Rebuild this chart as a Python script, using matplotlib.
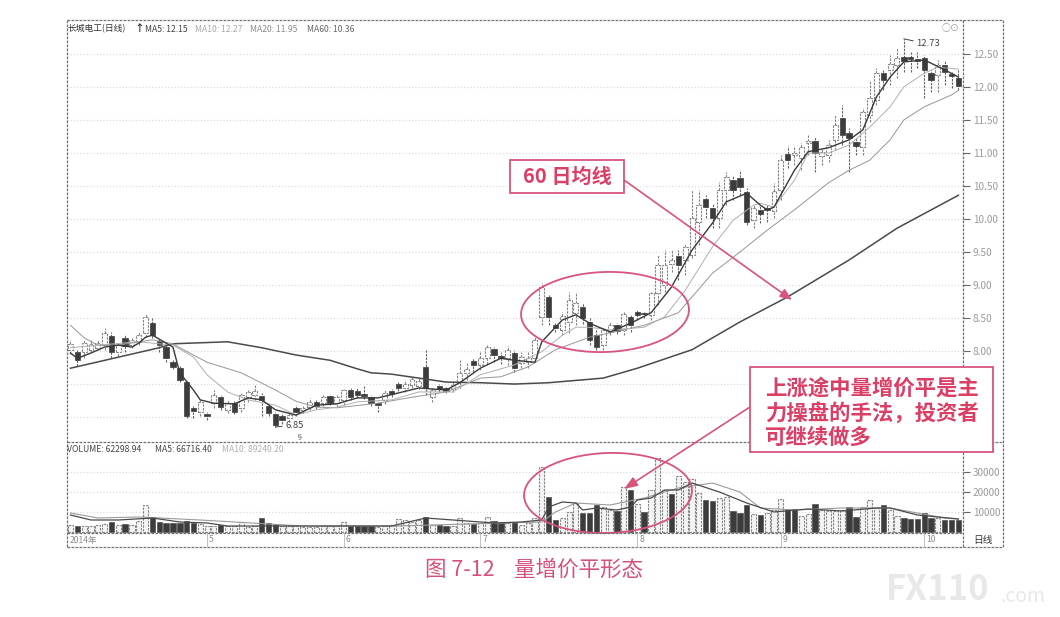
import matplotlib
matplotlib.use("Agg")
import matplotlib.pyplot as plt
from matplotlib.patches import Ellipse, Rectangle

plt.rcParams['font.family'] = ['Noto Sans CJK SC', 'DejaVu Sans']
plt.rcParams['axes.unicode_minus'] = False

# ---------- daily prices ----------
opens = [8.02,7.99,7.99,8.02,8.05,8.09,8.23,7.99,8.20,8.09,8.14,8.27,8.42,8.15,8.06,7.83,7.74,7.53,7.14,7.08,
         7.05,7.21,7.30,7.11,7.21,7.14,7.30,7.33,7.32,7.17,7.05,7.02,6.99,7.14,7.11,7.15,7.23,7.21,7.32,7.21,
         7.26,7.41,7.39,7.35,7.30,7.21,7.26,7.39,7.50,7.44,7.49,7.47,7.76,7.30,7.47,7.44,7.43,7.53,7.67,7.85,
         7.79,7.89,8.03,7.92,7.89,7.97,7.82,7.83,7.89,8.52,8.82,8.39,8.32,8.44,8.58,8.67,8.44,8.24,8.09,8.29,
         8.39,8.32,8.52,8.59,8.58,8.55,8.88,9.00,9.32,9.44,9.38,9.45,9.95,10.30,10.17,10.02,10.44,10.59,10.62,10.41,
         9.98,10.14,10.17,10.12,10.44,10.99,10.97,10.92,11.15,11.18,10.95,10.97,11.20,11.53,11.30,11.17,11.09,11.58,11.80,12.21,
         12.26,12.33,12.45,12.45,12.42,12.44,12.21,12.18,12.33,12.20,12.14]
highs = [8.17,8.02,8.17,8.17,8.17,8.35,8.29,8.14,8.24,8.20,8.29,8.56,8.50,8.20,8.09,7.86,7.77,7.55,7.17,7.26,
         7.08,7.41,7.33,7.26,7.24,7.36,7.41,7.49,7.36,7.20,7.08,7.06,7.08,7.18,7.17,7.29,7.26,7.33,7.35,7.33,
         7.43,7.44,7.44,7.47,7.33,7.24,7.41,7.43,7.53,7.56,7.62,7.59,8.02,7.44,7.50,7.47,7.53,7.86,7.83,7.89,
         7.99,8.09,8.06,7.99,8.08,8.02,7.99,7.99,8.24,9.03,8.85,8.42,8.59,8.89,8.89,8.73,8.50,8.32,8.35,8.44,
         8.42,8.59,8.55,8.62,8.61,8.89,9.45,9.53,9.53,9.53,9.62,10.44,10.44,10.36,10.23,10.56,10.71,10.67,10.74,10.47,
         10.21,10.21,10.21,10.55,10.97,11.11,11.11,11.15,11.27,11.24,11.08,11.20,11.58,11.73,11.38,11.23,11.68,12.11,12.29,12.26,
         12.48,12.59,12.73,12.53,12.53,12.48,12.26,12.41,12.41,12.23,12.26]
lows = [7.96,7.77,7.89,7.99,8.02,8.02,7.89,7.92,7.99,8.05,8.09,8.21,8.20,7.99,7.83,7.73,7.53,6.99,6.99,7.02,
        6.95,7.14,7.11,7.06,7.05,7.08,7.23,7.26,7.02,7.02,6.85,6.89,6.93,7.02,7.06,7.11,7.12,7.17,7.18,7.15,
        7.18,7.26,7.29,7.27,7.17,7.08,7.20,7.30,7.39,7.38,7.44,7.43,7.33,7.23,7.38,7.36,7.38,7.44,7.56,7.68,
        7.71,7.80,7.83,7.80,7.79,7.68,7.74,7.74,7.83,8.39,8.39,8.29,8.24,8.27,8.39,8.41,8.09,8.02,8.02,8.24,
        8.26,8.24,8.29,8.47,8.50,8.47,8.70,8.89,9.20,9.08,9.15,9.41,9.61,10.02,9.86,9.86,10.21,10.29,10.36,9.91,
        9.86,9.94,9.95,10.02,10.29,10.77,10.82,10.74,10.97,10.71,10.82,10.86,11.05,11.12,10.71,10.97,10.97,11.47,11.73,11.95,
        12.03,12.14,12.23,12.23,12.29,11.83,11.92,11.92,12.03,11.98,11.95]
closes = [8.11,7.86,8.12,8.11,8.12,8.27,7.99,8.09,8.08,8.17,8.24,8.52,8.24,8.09,7.89,7.76,7.56,7.02,7.09,7.23,
          7.02,7.33,7.15,7.21,7.08,7.33,7.38,7.39,7.26,7.06,6.88,6.95,7.03,7.08,7.14,7.23,7.17,7.30,7.21,7.30,
          7.41,7.30,7.33,7.32,7.21,7.18,7.36,7.35,7.44,7.50,7.58,7.55,7.44,7.41,7.43,7.39,7.49,7.67,7.73,7.79,
          7.89,8.06,7.94,7.89,8.02,7.74,7.91,7.89,8.17,8.97,8.52,8.35,8.53,8.77,8.73,8.50,8.17,8.06,8.32,8.39,
          8.30,8.56,8.39,8.55,8.56,8.88,9.30,9.30,9.38,9.30,9.58,10.02,10.21,10.18,10.02,10.44,10.64,10.44,10.49,9.95,
          10.17,10.08,10.14,10.42,10.89,10.89,11.00,11.09,11.18,11.00,11.02,11.12,11.42,11.27,11.23,11.11,11.62,11.83,12.21,12.11,
          12.35,12.44,12.39,12.42,12.39,12.26,12.11,12.33,12.23,12.17,12.02]

# ---------- moving averages: day index / value ----------
ma5_days = [0,1,3,5,7,9,10,11,12,14,15,16,18,19,21,24,26,28,30,33,34,36,39,42,45,51,55,57,60,63,65,68,69,72,74,76,79,82,85,88,91,94,96,99,101,102,103,106,108,111,114,116,118,120,122,125,128,130]
ma5 = [7.97,7.89,7.97,8.06,8.09,8.06,8.12,8.21,8.24,8.12,8.06,7.67,7.41,7.26,7.21,7.20,7.29,7.26,7.11,7.03,7.08,7.18,7.20,7.29,7.29,7.44,7.41,7.52,7.74,7.89,7.86,7.83,8.14,8.47,8.55,8.42,8.29,8.42,8.58,8.97,9.53,9.94,10.26,10.39,10.21,10.14,10.18,10.74,11.02,11.08,11.20,11.35,11.85,12.15,12.38,12.41,12.26,12.15]
ma10_days = [0,4,10,15,18,20,23,26,30,33,36,39,42,47,51,56,60,65,69,72,74,76,79,84,87,90,94,97,100,101,103,106,108,111,114,117,120,122,125,127,130]
ma10 = [8.05,8.09,8.14,8.09,7.91,7.64,7.38,7.26,7.18,7.03,7.11,7.15,7.23,7.26,7.38,7.38,7.64,7.79,7.99,8.24,8.36,8.36,8.32,8.36,8.52,8.92,9.58,9.98,10.21,10.24,10.18,10.59,11.00,11.00,11.12,11.39,11.70,12.00,12.21,12.30,12.27]
ma20_days = [0,2,4,7,12,15,16,20,25,30,33,36,39,45,50,55,60,63,67,71,76,84,89,94,98,102,106,111,114,117,120,122,125,129,130]
ma20 = [8.39,8.20,8.09,8.09,8.17,8.11,8.05,7.83,7.67,7.41,7.24,7.15,7.14,7.21,7.30,7.38,7.59,7.61,7.76,8.02,8.21,8.39,8.58,9.18,9.50,9.83,10.14,10.55,10.74,10.89,11.20,11.50,11.70,11.88,11.95]
ma60_days = [0,13,15,23,28,33,38,42,44,47,51,55,60,65,70,78,83,91,98,105,114,121,130]
ma60 = [7.74,8.05,8.11,8.14,8.05,7.94,7.86,7.73,7.67,7.65,7.59,7.53,7.52,7.50,7.52,7.59,7.74,8.02,8.44,8.82,9.38,9.86,10.36]

# ---------- volume ----------
volume = [3500,3000,3000,3000,3500,4000,5000,3500,4000,3500,5500,13500,7500,5000,4500,4500,4500,5500,4500,4000,
          3000,3000,3500,3000,3000,5000,2500,3000,7000,4500,4000,3000,3000,3000,2500,2500,2500,3000,3000,3000,
          5000,3000,3000,3000,3000,2500,3000,3500,6500,6000,5000,6000,7500,3500,3500,3000,3000,7000,4500,4000,
          4500,7500,5500,4500,4500,5000,3500,4500,7000,32500,17500,6000,7000,10000,14500,9500,9500,13500,12500,11000,
          10500,22500,21000,14000,10000,21000,37000,21000,19000,28000,25000,26500,19500,16000,15500,17000,17500,10500,9500,13500,
          9000,8500,9500,11000,16500,11500,11500,8000,9000,14000,11000,10500,10500,11000,12500,7500,12500,16000,12000,13500,
          11000,8000,7000,6500,6500,9500,7000,7000,6000,6000,6000]
volume_down_days = [1,6,8,12,13,14,15,16,17,18,22,28,29,30,41,42,43,44,52,54,55,59,62,63,65,70,71,75,76,77,80,82,84,88,
                    93,94,97,98,99,101,105,106,109,114,115,119,122,123,124,125,126,128,129,130]
vma5_days = [0,3,7,12,16,20,23,37,47,52,62,66,69,70,72,74,75,77,80,82,83,85,87,89,91,95,99,103,108,113,118,120,124,130]
vma5 = [8500,6000,6000,7000,5000,4500,3000,3000,3000,7000,4500,5000,6000,12500,15000,14500,11000,12000,11000,12500,16000,17000,21000,21000,24500,20000,14500,10000,11500,10500,12000,12000,8500,6500]
vma10_days = [0,4,10,19,34,48,63,69,71,74,79,84,89,94,98,101,106,113,120,128,130]
vma10 = [9500,7000,7500,6000,3000,3000,4500,5000,10000,14500,13500,17000,22000,24500,20000,12000,11000,12000,12000,7000,6500]

# ---------- axis labels ----------
price_ticks = [7.0,7.5,8.0,8.5,9.0,9.5,10.0,10.5,11.0,11.5,12.0,12.5]
volume_ticks = [10000,20000,30000]
month_days = [20,40,60,83,104,125]
month_labels = ['5','6','7','8','9','10']
title_text = '长城电工(日线)'
ma_labels = ['MA5: 12.15','MA10: 12.27','MA20: 11.95','MA60: 10.36']
vol_labels = ['VOLUME: 62298.94','MA5: 66716.40','MA10: 89240.20']
callout_a = '60 日均线'
callout_b = ['上涨途中量增价平是主','力操盘的手法，投资者','可继续做多']
caption_no = '图 7-12'
caption_name = '量增价平形态'

W, H = 1060, 617
PINK = '#d8547c'
RED = '#dc3f66'
DARK = '#3c3c3c'
EDGE = '#858585'
GRID = '#dcdcdc'
DASH = (0, (2.2, 1))

fig = plt.figure(figsize=(W/100, H/100), dpi=100, facecolor='white')


def rect(l, t, r, b):
    return [l/W, 1-b/H, (r-l)/W, (b-t)/H]


ax = fig.add_axes(rect(67, 20, 963, 442))
axv = fig.add_axes(rect(67, 442, 963, 533))
for a in (ax, axv):
    a.set_xlim(-0.51, 130.67)
    for s in a.spines.values():
        s.set_visible(False)
    a.set_xticks([])
    a.set_facecolor('white')
ax.set_ylim(6.622, 13.015)
axv.set_ylim(-500, 45000)
for a, ticks in ((ax, price_ticks), (axv, volume_ticks)):
    a.set_yticks(ticks)
    a.yaxis.tick_right()
    a.tick_params(axis='y', length=5, width=0.8, color='#666666', pad=2, labelsize=7.2,
                  labelcolor='#9a9a9a')
    a.grid(axis='y', color=GRID, lw=0.9, ls=(0, (1, 1.6)))
    a.set_axisbelow(True)
ax.set_yticklabels(['%.2f' % t for t in price_ticks])

days = list(range(len(opens)))
for i in days:
    up = closes[i] >= opens[i]
    top, bot = max(opens[i], closes[i]), min(opens[i], closes[i])
    if up:
        ax.vlines(i, lows[i], bot, color=EDGE, lw=0.8, ls=DASH, zorder=2)
        ax.vlines(i, top, highs[i], color=EDGE, lw=0.8, ls=DASH, zorder=2)
        ax.bar(i, top-bot, 0.72, bot, facecolor='white', edgecolor=EDGE, lw=0.8, ls=DASH, zorder=3)
    else:
        ax.vlines(i, lows[i], highs[i], color='#666666', lw=0.8, ls=DASH, zorder=2)
        ax.bar(i, top-bot, 0.8, bot, facecolor=DARK, edgecolor=DARK, lw=0.5, zorder=3)

ax.plot(ma60_days, ma60, color='#4a4a4a', lw=1.1, zorder=4)
ax.plot(ma20_days, ma20, color='#969696', lw=0.7, zorder=4)
ax.plot(ma10_days, ma10, color='#b0b0b0', lw=0.7, zorder=4)
ax.plot(ma5_days, ma5, color='#3a3a3a', lw=1.0, zorder=5)

for i, v in enumerate(volume):
    if i in volume_down_days:
        axv.bar(i, v, 0.8, facecolor=DARK, edgecolor=DARK, lw=0.4, zorder=3)
    else:
        axv.bar(i, v, 0.75, facecolor='#f4f4f4', edgecolor=EDGE, lw=0.8, ls=DASH, zorder=3)
axv.plot(vma10_days, vma10, color='#9a9a9a', lw=0.8, zorder=4)
axv.plot(vma5_days, vma5, color='#4a4a4a', lw=0.9, zorder=5)

# overlay in figure pixels: frame, labels and the red notes
ov = fig.add_axes([0, 0, 1, 1], zorder=10)
ov.set_xlim(0, W)
ov.set_ylim(H, 0)
ov.axis('off')
ov.patch.set_alpha(0)
fc = '#707070'
for y0, a0, b0 in ((20, 67, 1003), (442, 67, 1003), (533, 67, 963), (547, 67, 1003)):
    ov.plot([a0, b0], [y0, y0], color=fc, lw=0.9, ls=DASH)
for x0 in (67, 963, 1003):
    ov.plot([x0, x0], [20, 547], color=fc, lw=0.9, ls=DASH)

ov.text(68, 29, title_text, fontsize=6.3, color='#333333', va='center')
ov.text(139, 28, '↑', fontsize=7, color='#333333', va='center', ha='center', weight='bold')
for x0, s, c in zip((145, 195, 250, 307), ma_labels, ('#444444', '#aaaaaa', '#8c8c8c', '#666666')):
    ov.text(x0, 29, s, fontsize=6.2, color=c, va='center')
ov.text(951, 29, '○⊙', fontsize=6.5, color='#999999', va='center', ha='center')
for x0, s, c in zip((67, 155, 222), vol_labels, ('#444444', '#444444', '#b0b0b0')):
    ov.text(x0, 449, s, fontsize=6.2, color=c, va='center')

ov.text(70, 540, '2014年', fontsize=6.2, color='#8a8a8a', va='center')
for d, s in zip(month_days, month_labels):
    xp = 70.5 + 6.83*d
    ov.plot([xp, xp], [533, 547], color='#b5b5b5', lw=0.6)
    ov.text(xp+2, 540, s, fontsize=6.2, color='#8a8a8a', va='center')
ov.text(983, 540, '日线', fontsize=7, color='#333333', va='center', ha='center')

ax.annotate('12.73', xy=(122, 12.73), xytext=(916, 44), textcoords=ov.transData, fontsize=6.8,
            color='#444444', va='center', arrowprops=dict(arrowstyle='-', color='#444444', lw=0.7, shrinkA=0, shrinkB=0), zorder=9)
ax.annotate('6.85', xy=(30, 6.85), xytext=(285, 425), textcoords=ov.transData, fontsize=6.8,
            color='#444444', va='center', arrowprops=dict(arrowstyle='-', color='#444444', lw=0.7, shrinkA=0, shrinkB=0), zorder=9)
ov.text(300, 437, '§', fontsize=5.5, color='#555555', ha='center', va='center')

# notes
ov.add_patch(Ellipse((605, 312), 168, 80, angle=-2, fill=False, ec=PINK, lw=1.3))
ov.add_patch(Ellipse((608, 493), 168, 80, angle=-2, fill=False, ec=PINK, lw=1.3))
ov.add_patch(Rectangle((510, 160), 114, 33, fc='white', ec=PINK, lw=1.3, zorder=6))
ov.text(567, 176, callout_a, fontsize=14.5, color=RED, ha='center', va='center', weight='bold', zorder=7)
ov.add_patch(Rectangle((750, 367), 243, 85, fc='white', ec=PINK, lw=1.3, zorder=6))
for k, s in enumerate(callout_b):
    ov.text(765, 388 + k*24.5, s, fontsize=15.4, color=RED, va='center', weight='bold', zorder=7)
ov.annotate('', xy=(792, 300), xytext=(624, 180),
            arrowprops=dict(arrowstyle='-|>,head_width=0.28,head_length=0.7', color=PINK, lw=1.2, shrinkA=0, shrinkB=0), zorder=5)
ov.annotate('', xy=(624, 489), xytext=(750, 407),
            arrowprops=dict(arrowstyle='-|>,head_width=0.3,head_length=0.8', color=PINK, lw=1.2, shrinkA=0, shrinkB=0), zorder=5)

ov.text(425, 570, caption_no, fontsize=15.5, color='#d5517b', va='center')
ov.text(514, 570, caption_name, fontsize=15.5, color='#d5517b', va='center')

# watermark
ov.text(886, 590, 'FX110', fontsize=25, color='#e8e8e8', va='center', weight='bold')
ov.text(1046, 597, '.com', fontsize=14, color='#e8e8e8', va='center', ha='right')

fig.savefig('out.png', dpi=100, facecolor='white')
